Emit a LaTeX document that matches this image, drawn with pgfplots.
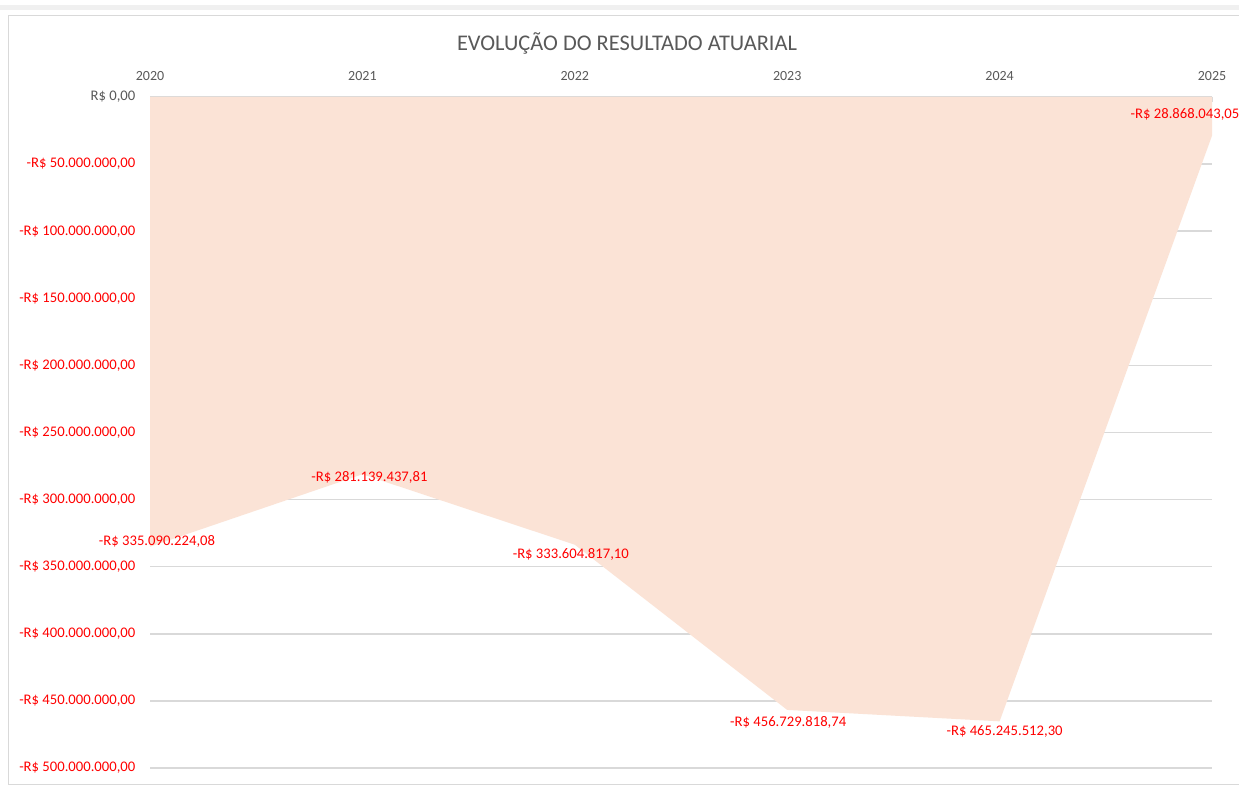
\documentclass[border=0pt]{standalone}
\usepackage{pgfplots}
\pgfplotsset{compat=1.18}
\usepackage{pgfplotstable}
\usepackage{fontspec}
\setmainfont{Carlito}

\definecolor{areafill}{HTML}{FBE3D6}
\definecolor{gridc}{HTML}{D9D9D9}
\definecolor{txtgray}{HTML}{595959}
\definecolor{lblred}{HTML}{FF0000}

% values in millions of R$; dx, dy = label offsets in px
\pgfplotstableread[col sep=semicolon]{
year;value;label;dx;dy
2020;-335.090224;-R\$ 335.090.224,08;7;5
2021;-281.139438;-R\$ 281.139.437,81;7;-3
2022;-333.604817;-R\$ 333.604.817,10;-4;-10
2023;-456.729819;-R\$ 456.729.818,74;1;-13
2024;-465.245512;-R\$ 465.245.512,30;5;-10
2025;-28.868043;-R\$ 28.868.043,05;-27;21
}\resultado

\begin{document}
\begin{tikzpicture}
\clip (0pt,0pt) rectangle (929.25pt,590.25pt);
\begin{scope}[x=0.75pt,y=0.75pt]
\fill[white] (0,0) rectangle (1239,787);
\fill[black!6] (0,777) rectangle (1239,782);
\draw[gridc, line width=0.75pt] (8,2) rectangle (1245,771);
\node[text=txtgray, font=\fontsize{16.8}{19}\selectfont] at (627,744) {EVOLUÇÃO DO RESULTADO ATUARIAL};
\end{scope}
\begin{axis}[
  at={(112.5pt,14.25pt)}, anchor=south west,
  scale only axis,
  width=796.5pt, height=503.25pt,
  xmin=2020, xmax=2025,
  ymin=-500, ymax=0,
  axis line style={draw=none},
  xtick={2020,2021,2022,2023,2024,2025},
  xticklabels={2020,2021,2022,2023,2024,2025},
  xtick pos=upper, xticklabel pos=upper,
  tick align=inside,
  major tick length=4pt,
  xtick style={gridc, line width=0.75pt},
  xticklabel style={text=txtgray, font=\fontsize{10.5}{12}\selectfont, yshift=9pt},
  ytick={-500,-450,-400,-350,-300,-250,-200,-150,-100,-50,0},
  yticklabels={{-R\$ 500.000.000,00},{-R\$ 450.000.000,00},{-R\$ 400.000.000,00},{-R\$ 350.000.000,00},{-R\$ 300.000.000,00},{-R\$ 250.000.000,00},{-R\$ 200.000.000,00},{-R\$ 150.000.000,00},{-R\$ 100.000.000,00},{-R\$ 50.000.000,00},{\textcolor{txtgray}{R\$ 0,00}}},
  ytick style={draw=none},
  yticklabel style={text=lblred, font=\fontsize{11}{13}\selectfont, xshift=-7.5pt},
  ymajorgrids,
  grid style={gridc, line width=1.1pt},
  clip=false,
]
\addplot[fill=areafill, draw=none] table[x=year, y=value] {\resultado} \closedcycle;
\addplot[draw=none, mark=none,
  point meta=explicit symbolic,
  visualization depends on={\thisrow{dx} \as \dx},
  visualization depends on={\thisrow{dy} \as \dy},
  nodes near coords,
  every node near coord/.append style={anchor=center, text=lblred,
    font=\fontsize{11}{13}\selectfont, xshift={\dx*0.75pt}, yshift={\dy*0.75pt}},
] table[x=year, y=value, meta=label] {\resultado};
\end{axis}
\end{tikzpicture}
\end{document}
